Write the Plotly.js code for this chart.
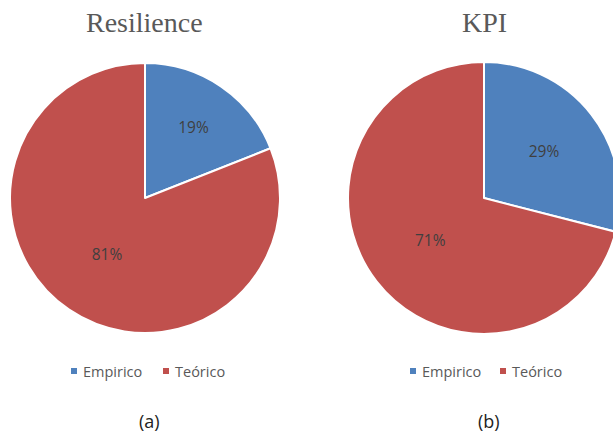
<!DOCTYPE html>
<html>
<head>
<meta charset="utf-8">
<script src="https://cdn.plot.ly/plotly-3.0.1.min.js"></script>
<style>
html,body{margin:0;padding:0;overflow:hidden;background:#fff;width:613px;height:435px;}
#chart{width:625px;height:435px;}
</style>
</head>
<body>
<div id="chart"></div>
<script>
// Data
var categories = ["Empirico", "Teórico"];
var resilienceValues = [19, 81];
var kpiValues = [29, 71];
var chartTitles = ["Resilience", "KPI"];
var panelLabels = ["(a)", "(b)"];
var colors = ["#4F81BD", "#C0504D"];

var W = 625, H = 435;
function px(x){ return x / W; }
function py(y){ return (H - y) / H; }

function pieTrace(values, cx, cy, r){
  return {
    type: "pie",
    labels: categories,
    values: values,
    sort: false,
    direction: "clockwise",
    rotation: 0,
    textinfo: "percent",
    textposition: "inside",
    insidetextorientation: "horizontal",
    texttemplate: "%{percent:.0%}",
    textfont: {family: "Open Sans, sans-serif", size: 15.5, color: "#3f3f3f"},
    marker: {colors: colors, line: {color: "#ffffff", width: 2}},
    hoverinfo: "none",
    showlegend: false,
    domain: {x: [px(cx - r), px(cx + r)], y: [py(cy + r), py(cy - r)]}
  };
}

var traces = [
  pieTrace(resilienceValues, 145, 198, 135),
  pieTrace(kpiValues, 484, 198, 136)
];

var annotations = [];
var shapes = [];
var titleX = [144, 484];
titleX.forEach(function(x, i){
  annotations.push({xref:"paper", yref:"paper", x: px(x), y: py(23), xanchor:"center", yanchor:"middle",
    text: chartTitles[i], showarrow:false,
    font:{family:"Liberation Serif, Times New Roman, serif", size:28, color:"#595959"}});
  annotations.push({xref:"paper", yref:"paper", x: px(x + 5), y: py(421), xanchor:"center", yanchor:"middle",
    text: panelLabels[i], showarrow:false,
    font:{family:"Open Sans, sans-serif", size:18, color:"#222222"}});
});

// legends
var legendStarts = [[71, 163], [410, 500]];
legendStarts.forEach(function(starts){
  starts.forEach(function(sx, j){
    shapes.push({type:"rect", xref:"paper", yref:"paper",
      x0: px(sx), x1: px(sx + 6), y0: py(374), y1: py(368),
      fillcolor: colors[j], line:{width:0}});
    annotations.push({xref:"paper", yref:"paper", x: px(sx + 10), y: py(371), xanchor:"left", yanchor:"middle",
      text: categories[j], showarrow:false,
      font:{family:"Open Sans, sans-serif", size:14.5, color:"#595959"}});
  });
});

var layout = {
  width: W, height: H,
  margin: {l:0, r:0, t:0, b:0},
  paper_bgcolor: "#ffffff",
  showlegend: false,
  annotations: annotations,
  shapes: shapes
};

Plotly.newPlot("chart", traces, layout, {staticPlot: true, displayModeBar: false});
</script>
</body>
</html>
